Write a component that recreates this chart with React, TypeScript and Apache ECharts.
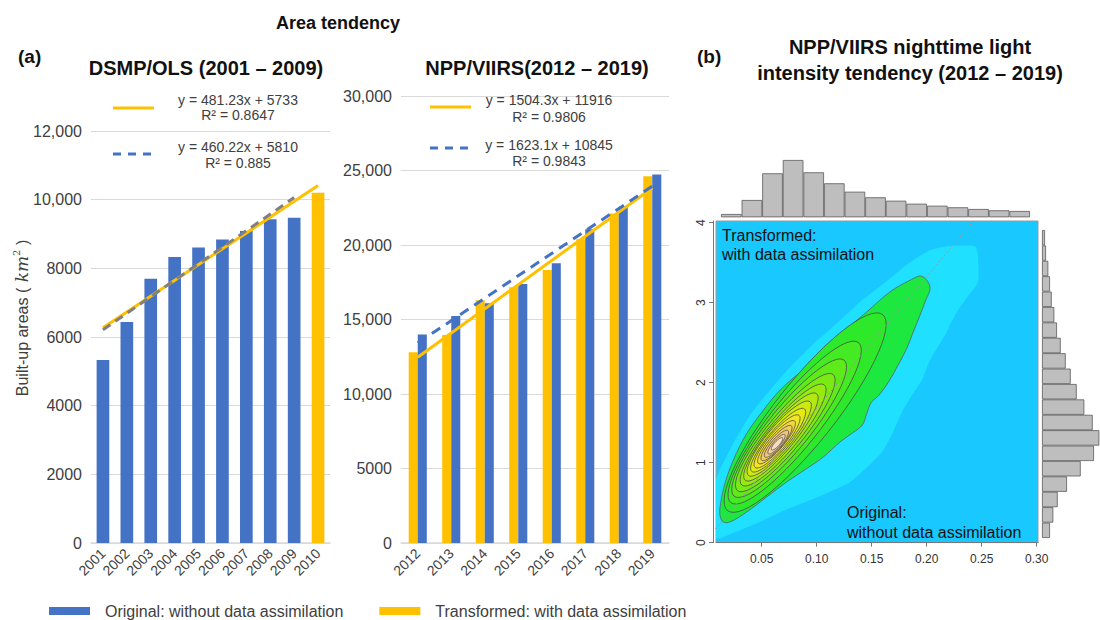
import React, { useEffect, useRef } from 'react';
import * as echarts from 'echarts';

// ---------- Panel (a) left: DMSP/OLS ----------
const dmspYears = ['2001', '2002', '2003', '2004', '2005', '2006', '2007', '2008', '2009', '2010'];
const dmspOriginal = [5330, 6440, 7700, 8330, 8610, 8840, 9090, 9430, 9470, null];
const dmspTransformed = [null, null, null, null, null, null, null, null, null, 10200];
const dmspTrendTransformed = [['2001', 6270], ['2010', 10410]];
const dmspTrendOriginal = [['2001', 6210], ['2009', 10060]];
const dmspEquations = [
  ['y = 481.23x + 5733', 'R² = 0.8647'],
  ['y = 460.22x + 5810', 'R² = 0.885'],
];

// ---------- Panel (a) middle: NPP/VIIRS ----------
const viirsYears = ['2012', '2013', '2014', '2015', '2016', '2017', '2018', '2019'];
const viirsTransformed = [12800, 13960, 16300, 17160, 18320, 20380, 22120, 24620];
const viirsOriginal = [14000, 15230, 16090, 17380, 18770, 21050, 22560, 24730];
const viirsTrendTransformed = [['2012', 12470], ['2019', 23830]];
const viirsTrendOriginal = [['2012', 13420], ['2019', 23950]];
const viirsEquations = [
  ['y = 1504.3x + 11916', 'R² = 0.9806'],
  ['y = 1623.1x + 10845', 'R² = 0.9843'],
];

const seriesNames = ['Original: without data assimilation', 'Transformed: with data assimilation'];

// ---------- Panel (b): density ----------
const densityXTicks = [0.05, 0.1, 0.15, 0.2, 0.25, 0.3];
const densityYTicks = [0, 1, 2, 3, 4];
// marginal histograms (relative frequencies)
const xHistCounts = [33, 173, 440, 573, 450, 340, 256, 200, 166, 136, 116, 100, 83, 70, 63];
const yHistCounts = [80, 113, 157, 250, 387, 520, 573, 507, 423, 347, 287, 237, 187, 150, 123, 97, 80, 63, 40, 30];

// density regions in data coordinates [x, y]
const lightBandPoints = [
  [0.2194, 3.704], [0.2439, 3.704], [0.2466, 3.591], [0.2466, 3.254], [0.2348, 3.029],
  [0.2257, 2.841], [0.2166, 2.591], [0.203, 2.279], [0.1957, 2.029], [0.1866, 1.841],
  [0.1775, 1.629], [0.1694, 1.379], [0.1594, 1.129], [0.1448, 0.929], [0.1303, 0.754],
  [0.103, 0.579], [0.0712, 0.404], [0.0457, 0.241], [0.0257, 0.129], [0.0085, 0.054],
  [0.0085, 0.779], [0.0139, 0.966], [0.0257, 1.279], [0.0412, 1.629], [0.0575, 1.904],
  [0.0757, 2.191], [0.0957, 2.466], [0.1194, 2.754], [0.1412, 3.029], [0.1648, 3.279],
  [0.1848, 3.504], [0.203, 3.654],
];
const greenRegionPoints = [
  [0.1955, 3.329], [0.203, 3.195], [0.1985, 3.008], [0.1939, 2.841], [0.1878, 2.633],
  [0.1818, 2.425], [0.1739, 2.216], [0.1657, 2.016], [0.1565, 1.841], [0.1495, 1.75],
  [0.1455, 1.613], [0.1415, 1.47], [0.1325, 1.37], [0.1212, 1.258], [0.106, 1.07],
  [0.0909, 0.925], [0.0727, 0.758], [0.0545, 0.57], [0.0364, 0.383], [0.0212, 0.258],
  [0.0151, 0.258], [0.0121, 0.341], [0.0127, 0.488], [0.0166, 0.738], [0.0242, 1.029],
  [0.0364, 1.363], [0.0515, 1.654], [0.0666, 1.904], [0.0848, 2.129], [0.103, 2.341],
  [0.1242, 2.633], [0.1455, 2.883], [0.1666, 3.133], [0.1848, 3.279],
];
// inner contours: [x1, y1, x2, y2, halfWidthRatio] (lower-left end, upper-right end)
const contourEllipses = [
  [0.019, 0.40, 0.160, 2.85, 0.24],
  [0.022, 0.50, 0.138, 2.50, 0.24],
  [0.025, 0.58, 0.125, 2.28, 0.24],
  [0.028, 0.65, 0.115, 2.10, 0.24],
  [0.032, 0.72, 0.107, 1.97, 0.24],
  [0.035, 0.78, 0.100, 1.86, 0.24],
  [0.038, 0.84, 0.094, 1.76, 0.25],
  [0.041, 0.89, 0.089, 1.67, 0.25],
  [0.044, 0.94, 0.084, 1.59, 0.26],
  [0.047, 0.99, 0.080, 1.52, 0.26],
  [0.050, 1.03, 0.077, 1.46, 0.27],
  [0.053, 1.07, 0.074, 1.40, 0.28],
  [0.056, 1.11, 0.071, 1.35, 0.28],
  [0.059, 1.16, 0.069, 1.31, 0.30],
];
const contourFills = [
  '#2ee92a', '#44ea22', '#5fea1a', '#7aea14', '#96ea10', '#b2ea10', '#ccea10',
  '#e4ea12', '#f2e624', '#f2d83e', '#f0cc5c', '#f0c67c', '#f2cea0', '#f6dcc0',
];
const refLine = [[0.008, 0.17], [0.2425, 4.02]];

const FONT = '"Liberation Sans", Arial, Helvetica, sans-serif';
const BLUE = '#4472C4';
const YELLOW = '#FFC000';
const TXT = '#404040';

function fmtThousands(v: number) {
  return v >= 10000 ? v.toLocaleString('en-US') : String(v);
}

function renderDensity(params: any, api: any) {
  const idx = api.value(2);
  let pts: number[][] = [];
  if (idx === 0) {
    pts = lightBandPoints.map((p) => api.coord(p));
    return { type: 'polygon', shape: { points: pts, smooth: 0.2 }, style: { fill: '#1fe0ff', stroke: 'none' } };
  }
  if (idx === 1) {
    pts = greenRegionPoints.map((p) => api.coord(p));
    return {
      type: 'polygon', shape: { points: pts, smooth: 0.35 },
      style: { fill: '#1de840', stroke: '#4f6f70', lineWidth: 0.9 },
    };
  }
  const e = contourEllipses[idx - 2];
  const a = api.coord([e[0], e[1]]);
  const b = api.coord([e[2], e[3]]);
  const cx = (a[0] + b[0]) / 2;
  const cy = (a[1] + b[1]) / 2;
  const hx = (b[0] - a[0]) / 2;
  const hy = (b[1] - a[1]) / 2;
  const vx = -hy * e[4];
  const vy = hx * e[4];
  for (let k = 0; k < 60; k++) {
    const t = (k / 60) * Math.PI * 2;
    pts.push([cx + Math.cos(t) * hx + Math.sin(t) * vx, cy + Math.cos(t) * hy + Math.sin(t) * vy]);
  }
  return {
    type: 'polygon',
    shape: { points: pts },
    style: { fill: contourFills[idx - 2], stroke: '#4a4a4a', lineWidth: 0.8 },
  };
}

function buildOption(): any {
  const densityItems = [[0.1, 1, 0], [0.1, 1, 1]].concat(contourEllipses.map((_, i) => [0.1, 1, i + 2]));

  const textEl = (text: string, x: number, y: number, size: number, bold: boolean, align = 'center', color = '#111') => ({
    type: 'text',
    x,
    y,
    z: 100,
    style: {
      text,
      fill: color,
      font: `${bold ? 'bold ' : ''}${size}px ${FONT}`,
      align,
      verticalAlign: 'middle',
    },
  });

  const legendBlock = (eq: string[][], lineX: number, textX: number, ys: number[][]) => [
    {
      type: 'line', z: 100,
      shape: { x1: lineX, y1: ys[0][0], x2: lineX + 41, y2: ys[0][0] },
      style: { stroke: YELLOW, lineWidth: 3 },
    },
    textEl(eq[0][0], textX, ys[0][1], 14, false, 'center', TXT),
    textEl(eq[0][1], textX, ys[0][2], 14, false, 'center', TXT),
    {
      type: 'line', z: 100,
      shape: { x1: lineX, y1: ys[1][0], x2: lineX + 41, y2: ys[1][0] },
      style: { stroke: BLUE, lineWidth: 3, lineDash: [8, 7] },
    },
    textEl(eq[1][0], textX, ys[1][1], 14, false, 'center', TXT),
    textEl(eq[1][1], textX, ys[1][2], 14, false, 'center', TXT),
  ];

  const catLabel = { rotate: 45, interval: 0, fontSize: 14, color: TXT, margin: 8, fontFamily: FONT };

  return {
    animation: false,
    backgroundColor: '#fff',
    textStyle: { fontFamily: FONT },
    grid: [
      { left: 91, top: 131, width: 239, height: 412 },
      { left: 401, top: 96, width: 268, height: 447 },
      {
        left: 716, top: 221, width: 322, height: 321.6, show: true,
        backgroundColor: '#18c8ff', borderColor: '#9a9a9a', borderWidth: 1,
      },
      { left: 721, top: 150, width: 309, height: 67.3 },
      { left: 1042, top: 230, width: 58, height: 308 },
    ],
    legend: {
      data: seriesNames,
      left: 44,
      top: 598,
      itemWidth: 41,
      itemHeight: 8,
      itemGap: 36,
      icon: 'rect',
      textStyle: { fontSize: 16, color: TXT, fontFamily: FONT, padding: [0, 0, 0, 10] },
    },
    xAxis: [
      {
        type: 'category', gridIndex: 0, data: dmspYears,
        axisLine: { lineStyle: { color: '#d9d9d9', width: 1.5 } },
        axisTick: { show: false },
        axisLabel: catLabel,
      },
      {
        type: 'category', gridIndex: 1, data: viirsYears,
        axisLine: { lineStyle: { color: '#d9d9d9', width: 1.5 } },
        axisTick: { show: false },
        axisLabel: catLabel,
      },
      {
        type: 'value', gridIndex: 2, min: 0.0085, max: 0.3012, offset: 3,
        splitLine: { show: false },
        axisLine: { show: true, lineStyle: { color: '#777' } },
        axisTick: { show: true, length: 4, customValues: densityXTicks, lineStyle: { color: '#777' } },
        axisLabel: {
          customValues: densityXTicks, fontSize: 12, color: '#333', margin: 7, fontFamily: FONT,
          formatter: (v: number) => v.toFixed(2),
        },
      },
      {
        type: 'category', gridIndex: 3, data: xHistCounts.map((_, i) => String(i)), show: false,
      },
      { type: 'value', gridIndex: 4, min: 0, max: 580, show: false },
    ],
    yAxis: [
      {
        type: 'value', gridIndex: 0, min: 0, max: 12000, interval: 2000,
        axisLine: { show: false }, axisTick: { show: false },
        splitLine: { lineStyle: { color: '#d9d9d9', width: 1.2 } },
        axisLabel: { fontSize: 16, color: TXT, margin: 9, fontFamily: FONT, formatter: fmtThousands },
      },
      {
        type: 'value', gridIndex: 1, min: 0, max: 30000, interval: 5000,
        axisLine: { show: false }, axisTick: { show: false },
        splitLine: { lineStyle: { color: '#d9d9d9', width: 1.2 } },
        axisLabel: { fontSize: 16, color: TXT, margin: 9, fontFamily: FONT, formatter: fmtThousands },
      },
      {
        type: 'value', gridIndex: 2, min: 0, max: 4.02, offset: 3,
        splitLine: { show: false },
        axisLine: { show: true, lineStyle: { color: '#777' } },
        axisTick: { show: true, length: 4, customValues: densityYTicks, lineStyle: { color: '#777' } },
        axisLabel: { customValues: densityYTicks, rotate: 90, fontSize: 12, color: '#333', margin: 6, fontFamily: FONT },
      },
      { type: 'value', gridIndex: 3, min: 0, max: 673, show: false },
      {
        type: 'category', gridIndex: 4, data: yHistCounts.map((_, i) => String(i)), show: false,
      },
    ],
    series: [
      {
        name: seriesNames[0], type: 'bar', xAxisIndex: 0, yAxisIndex: 0,
        data: dmspOriginal, barWidth: '53%', itemStyle: { color: BLUE },
      },
      {
        name: seriesNames[1], type: 'bar', xAxisIndex: 0, yAxisIndex: 0,
        data: dmspTransformed, barWidth: '53%', barGap: '-100%', itemStyle: { color: YELLOW },
      },
      {
        name: 'trend-dmsp-transformed', type: 'line', xAxisIndex: 0, yAxisIndex: 0, z: 3,
        data: dmspTrendTransformed, symbol: 'none', lineStyle: { color: YELLOW, width: 3 },
      },
      {
        name: 'trend-dmsp-original', type: 'line', xAxisIndex: 0, yAxisIndex: 0, z: 4,
        data: dmspTrendOriginal, symbol: 'none', lineStyle: { color: '#808080', width: 3, type: [9, 6] },
      },
      {
        name: seriesNames[1], type: 'bar', xAxisIndex: 1, yAxisIndex: 1,
        data: viirsTransformed, barWidth: '27%', barGap: '0%', itemStyle: { color: YELLOW },
      },
      {
        name: seriesNames[0], type: 'bar', xAxisIndex: 1, yAxisIndex: 1,
        data: viirsOriginal, barWidth: '27%', barGap: '0%', itemStyle: { color: BLUE },
      },
      {
        name: 'trend-viirs-transformed', type: 'line', xAxisIndex: 1, yAxisIndex: 1, z: 3,
        data: viirsTrendTransformed, symbol: 'none', lineStyle: { color: YELLOW, width: 3 },
      },
      {
        name: 'trend-viirs-original', type: 'line', xAxisIndex: 1, yAxisIndex: 1, z: 4,
        data: viirsTrendOriginal, symbol: 'none', lineStyle: { color: BLUE, width: 3, type: [10, 7] },
      },
      {
        name: 'density', type: 'custom', coordinateSystem: 'cartesian2d', xAxisIndex: 2, yAxisIndex: 2,
        data: densityItems, renderItem: renderDensity, clip: true, z: 2,
      },
      {
        name: 'reference', type: 'line', xAxisIndex: 2, yAxisIndex: 2, z: 3,
        data: refLine, symbol: 'none', lineStyle: { color: '#9a9a9a', width: 1, type: [2, 2] },
      },
      {
        name: 'x-hist', type: 'bar', xAxisIndex: 3, yAxisIndex: 3, data: xHistCounts,
        barCategoryGap: '0%', itemStyle: { color: '#bebebe', borderColor: '#5a5a5a', borderWidth: 0.8 },
      },
      {
        name: 'y-hist', type: 'bar', xAxisIndex: 4, yAxisIndex: 4, data: yHistCounts,
        barCategoryGap: '0%', itemStyle: { color: '#bebebe', borderColor: '#5a5a5a', borderWidth: 0.8 },
      },
    ],
    graphic: [
      textEl('Area tendency', 338, 23, 18, true),
      textEl('(a)', 18, 56, 19, true, 'left'),
      textEl('DSMP/OLS (2001 – 2009)', 206, 68, 20, true),
      textEl('NPP/VIIRS(2012 – 2019)', 537, 68, 20, true),
      textEl('(b)', 697, 56, 19, true, 'left'),
      textEl('NPP/VIIRS nighttime light', 910, 47, 20, true),
      textEl('intensity tendency (2012 – 2019)', 910, 73, 20, true),
      ...legendBlock(dmspEquations, 113, 238, [[108, 100, 115], [154, 147, 163]]),
      ...legendBlock(viirsEquations, 430, 549, [[107, 100, 117], [148, 145, 161]]),
      {
        type: 'text', x: 22, y: 318, rotation: Math.PI / 2, z: 100,
        style: {
          text: '{a|Built-up areas (}{b| km}{c|2}{a| )}',
          align: 'center', verticalAlign: 'middle',
          rich: {
            a: { fontSize: 16, fontFamily: FONT, fill: TXT, lineHeight: 22 },
            b: { fontSize: 17, fontFamily: '"DejaVu Serif", serif', fontStyle: 'italic', fill: TXT, lineHeight: 22 },
            c: { fontSize: 10, fontFamily: '"DejaVu Serif", serif', fill: TXT, verticalAlign: 'top', lineHeight: 22 },
          },
        },
      },
      {
        type: 'text', x: 722, y: 226, z: 100,
        style: { text: 'Transformed:\nwith data assimilation', fill: '#111', font: `16px ${FONT}`, lineHeight: 19 },
      },
      {
        type: 'text', x: 847, y: 503, z: 100,
        style: { text: 'Original:\nwithout data assimilation', fill: '#111', font: `16px ${FONT}`, lineHeight: 19.5 },
      },
    ],
  };
}

export default function App() {
  const ref = useRef<HTMLDivElement>(null);
  useEffect(() => {
    if (!ref.current) return;
    const chart = echarts.init(ref.current, undefined, { renderer: 'svg' });
    chart.setOption(buildOption());
    return () => chart.dispose();
  }, []);
  return (
    <div
      ref={ref}
      style={{ position: 'fixed', left: 0, top: 0, width: 1100, height: 620, background: '#fff' }}
    />
  );
}
